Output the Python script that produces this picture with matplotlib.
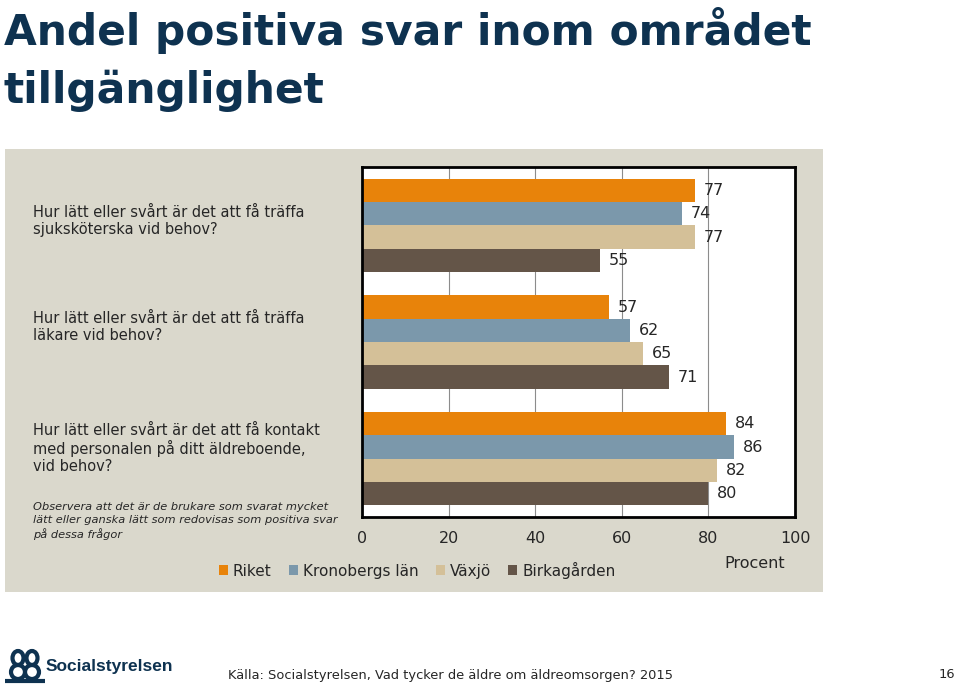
import matplotlib
matplotlib.use("Agg")
import matplotlib.pyplot as plt
import numpy as np
from matplotlib.patches import Rectangle, Ellipse

# ---------------- data ----------------
questions = [
    "Hur lätt eller svårt är det att få träffa\nsjuksköterska vid behov?",
    "Hur lätt eller svårt är det att få träffa\nläkare vid behov?",
    "Hur lätt eller svårt är det att få kontakt\nmed personalen på ditt äldreboende,\nvid behov?",
]
series_names = ["Riket", "Kronobergs län", "Växjö", "Birkagården"]
riket = [77, 57, 84]
kronoberg = [74, 62, 86]
vaxjo = [77, 65, 82]
birkagarden = [55, 71, 80]
x_ticks = [0, 20, 40, 60, 80, 100]
title = "Andel positiva svar inom området\ntillgänglighet"
note = ("Observera att det är de brukare som svarat mycket\n"
        "lätt eller ganska lätt som redovisas som positiva svar\n"
        "på dessa frågor")
source = "Källa: Socialstyrelsen, Vad tycker de äldre om äldreomsorgen? 2015"
page = "16"
x_label = "Procent"

colors = ["#E8830A", "#7B98AB", "#D4C098", "#645548"]
panel_color = "#DAD8CC"
title_color = "#0E3250"
text_color = "#262626"

W, H = 959, 688
fig = plt.figure(figsize=(W / 100, H / 100), dpi=100)
fig.patch.set_facecolor("white")

def fx(px):
    return px / W

def fy(py):
    return 1 - py / H

FONT = "DejaVu Sans"

# panel background (as a background axes)
bg = fig.add_axes([fx(5), fy(592), fx(823) - fx(5), fy(149) - fy(592)], zorder=-5)
bg.set_facecolor(panel_color)
bg.set_xticks([])
bg.set_yticks([])
for s in bg.spines.values():
    s.set_visible(False)

# title
fig.text(fx(4), fy(45), title.split("\n")[0], ha="left", va="baseline", fontsize=30.5,
         fontweight="bold", color=title_color, family=FONT)
fig.text(fx(4), fy(103), title.split("\n")[1], ha="left", va="baseline", fontsize=30.5,
         fontweight="bold", color=title_color, family=FONT)

# axes
ax = fig.add_axes([fx(362), fy(517), fx(795) - fx(362), fy(167) - fy(517)], zorder=2)
ax.set_facecolor("white")
series = [riket, kronoberg, vaxjo, birkagarden]
n = len(series)
h = 0.2
ypos = np.arange(len(questions))
for i, (vals, name, c) in enumerate(zip(series, series_names, colors)):
    offs = (i - (n - 1) / 2) * h
    bars = ax.barh(ypos + offs, vals, height=h, color=c, label=name, zorder=2)
    for b, v in zip(bars, vals):
        ax.text(v + 2.0, b.get_y() + b.get_height() / 2, f"{v}", va="center", ha="left",
                fontsize=11.5, color=text_color, family=FONT, zorder=3)

ax.set_xlim(0, 100)
ax.set_ylim(len(questions) - 0.5, -0.5)
ax.set_xticks(x_ticks)
ax.set_xticklabels([str(t) for t in x_ticks], fontsize=11.5, color=text_color, family=FONT)
ax.tick_params(axis="x", length=0, pad=10)
ax.set_yticks([])
ax.grid(axis="x", color="#8C8C8C", linewidth=0.8, zorder=1)
for s in ax.spines.values():
    s.set_color("black")
    s.set_linewidth(2)

# question texts
q_tops = [205, 311, 423]
for q, t in zip(questions, q_tops):
    fig.text(fx(33), fy(t), q, ha="left", va="top", fontsize=10.5, color=text_color,
             family=FONT, linespacing=1.15)

fig.text(fx(33), fy(502), note, ha="left", va="top", fontsize=8.2, style="italic",
         color=text_color, family=FONT, linespacing=1.35)

# x label
fig.text(fx(755), fy(563), x_label, ha="center", va="center", fontsize=11.5,
         color=text_color, family=FONT)

# legend
handles = [Rectangle((0, 0), 1, 1, facecolor=c, edgecolor="none") for c in colors]
leg = fig.legend(handles, series_names, loc="center", bbox_to_anchor=(fx(417), fy(570)),
                 ncol=4, frameon=False, handlelength=0.6, handleheight=0.6,
                 handletextpad=0.3, columnspacing=1.15,
                 prop={"family": FONT, "size": 11})
for t in leg.get_texts():
    t.set_color(text_color)

# footer
fig.text(fx(228), fy(675), source, ha="left", va="center", fontsize=9.4,
         color=text_color, family=FONT)
fig.text(fx(955), fy(675), page, ha="right", va="center", fontsize=9.4,
         color=text_color, family=FONT)

# logo (simplified)
logo_ax = fig.add_axes([fx(5), fy(684), fx(45) - fx(5), fy(646) - fy(684)])
logo_ax.set_xlim(0, 40)
logo_ax.set_ylim(0, 38)
logo_ax.axis("off")
for cx in (13, 27):
    logo_ax.add_patch(Ellipse((cx, 12), 14, 14, fill=False, lw=3, edgecolor=title_color))
    logo_ax.add_patch(Ellipse((cx, 26), 11, 14, fill=False, lw=3, edgecolor=title_color))
logo_ax.plot([2, 38], [3, 3], color=title_color, lw=3)
fig.text(fx(46), fy(667), "Socialstyrelsen", ha="left", va="center", fontsize=12.5,
         fontweight="bold", color=title_color, family="Liberation Sans")

fig.savefig("out.png", dpi=100, facecolor="white")
